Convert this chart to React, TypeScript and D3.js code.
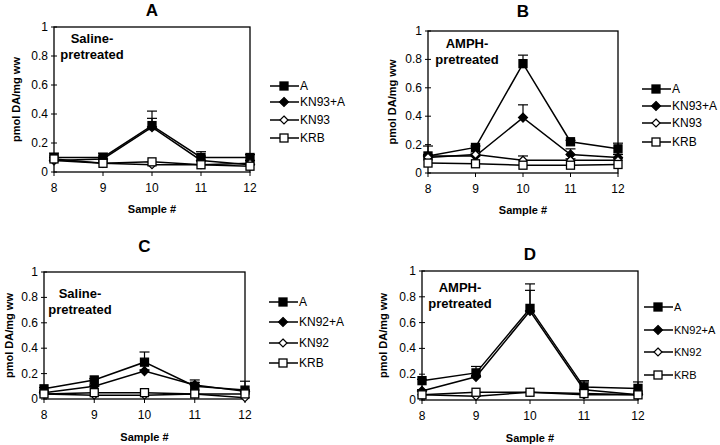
import React from "react";
import * as d3 from "d3";

const samples = [8, 9, 10, 11, 12];
const yTicks = [0, 0.2, 0.4, 0.6, 0.8, 1];
const yTickLabels = ["0", "0.2", "0.4", "0.6", "0.8", "1"];

// Panel A — saline, KN93
const aA = [0.1, 0.1, 0.32, 0.1, 0.1];
const aAerr = [0.13, 0.13, 0.42, 0.14, 0.12];
const aKNA = [0.08, 0.09, 0.31, 0.08, 0.05];
const aKNAerr = [0.1, 0.11, 0.37, 0.11, 0.08];
const aKN = [0.08, 0.06, 0.05, 0.05, 0.06];
const aKRB = [0.09, 0.06, 0.07, 0.05, 0.04];

// Panel B — AMPH, KN93
const bA = [0.12, 0.18, 0.77, 0.22, 0.17];
const bAerr = [0.19, 0.19, 0.83, 0.23, 0.21];
const bKNA = [0.12, 0.12, 0.39, 0.13, 0.11];
const bKNAerr = [0.13, 0.13, 0.48, 0.17, 0.13];
const bKN = [0.11, 0.13, 0.09, 0.09, 0.09];
const bKNerr = [0.12, 0.14, 0.12, 0.1, 0.1];
const bKRB = [0.07, 0.065, 0.055, 0.055, 0.06];

// Panel C — saline, KN92
const cA = [0.08, 0.15, 0.29, 0.1, 0.07];
const cAerr = [0.09, 0.16, 0.37, 0.15, 0.14];
const cKNA = [0.05, 0.1, 0.22, 0.11, 0.06];
const cKNAerr = [0.06, 0.11, 0.23, 0.13, 0.07];
const cKN = [0.04, 0.03, 0.03, 0.04, 0.01];
const cKRB = [0.04, 0.05, 0.05, 0.04, 0.04];

// Panel D — AMPH, KN92
const dA = [0.15, 0.21, 0.71, 0.1, 0.09];
const dAerr = [0.16, 0.26, 0.9, 0.15, 0.14];
const dKNA = [0.07, 0.18, 0.69, 0.08, 0.04];
const dKNAerr = [0.08, 0.19, 0.85, 0.14, 0.05];
const dKN = [0.04, 0.03, 0.06, 0.04, 0.04];
const dKRB = [0.04, 0.06, 0.06, 0.05, 0.04];

type Series = { name: string; values: number[]; err?: number[]; marker: string };

const panels = [
  {
    title: "A", note: ["Saline-", "pretreated"],
    series: [
      { name: "A", values: aA, err: aAerr, marker: "fsq" },
      { name: "KN93+A", values: aKNA, err: aKNAerr, marker: "fdi" },
      { name: "KN93", values: aKN, marker: "odi" },
      { name: "KRB", values: aKRB, marker: "osq" },
    ] as Series[],
    box: { l: 54, r: 250, t: 27, b: 172 },
    titleY: 10, noteX: 92, noteY: 46, legX: 270, legY: [86, 102, 120, 138], legFont: 12,
    ylabX: 16, xlabY: 213,
  },
  {
    title: "B", note: ["AMPH-", "pretreated"],
    series: [
      { name: "A", values: bA, err: bAerr, marker: "fsq" },
      { name: "KN93+A", values: bKNA, err: bKNAerr, marker: "fdi" },
      { name: "KN93", values: bKN, err: bKNerr, marker: "odi" },
      { name: "KRB", values: bKRB, marker: "osq" },
    ] as Series[],
    box: { l: 428, r: 618, t: 31, b: 173 },
    titleY: 11, noteX: 467, noteY: 51, legX: 642, legY: [89, 106, 123, 142], legFont: 12,
    ylabX: 392, xlabY: 214,
  },
  {
    title: "C", note: ["Saline-", "pretreated"],
    series: [
      { name: "A", values: cA, err: cAerr, marker: "fsq" },
      { name: "KN92+A", values: cKNA, err: cKNAerr, marker: "fdi" },
      { name: "KN92", values: cKN, marker: "odi" },
      { name: "KRB", values: cKRB, marker: "osq" },
    ] as Series[],
    box: { l: 44, r: 245, t: 272, b: 399 },
    titleY: 246, noteX: 80, noteY: 301, legX: 269, legY: [302, 322, 343, 363], legFont: 12,
    ylabX: 9, xlabY: 441,
  },
  {
    title: "D", note: ["AMPH-", "pretreated"],
    series: [
      { name: "A", values: dA, err: dAerr, marker: "fsq" },
      { name: "KN92+A", values: dKNA, err: dKNAerr, marker: "fdi" },
      { name: "KN92", values: dKN, marker: "odi" },
      { name: "KRB", values: dKRB, marker: "osq" },
    ] as Series[],
    box: { l: 422, r: 638, t: 271, b: 400 },
    titleY: 254, noteX: 460, noteY: 295, legX: 644, legY: [307, 330, 352, 375], legFont: 11,
    ylabX: 383, xlabY: 442,
  },
];

const FONT = "Liberation Sans, Arial, sans-serif";

function Marker({ kind, x, y }: { kind: string; x: number; y: number }) {
  if (kind === "fsq" || kind === "osq") {
    const s = 8;
    return (
      <rect x={x - s / 2} y={y - s / 2} width={s} height={s}
        fill={kind === "fsq" ? "#000" : "#fff"} stroke="#000" strokeWidth={1.3} />
    );
  }
  const r = kind === "fdi" ? 4.5 : 4;
  const pts = `${x},${y - r} ${x + r},${y} ${x},${y + r} ${x - r},${y}`;
  return <polygon points={pts} fill={kind === "fdi" ? "#000" : "#fff"} stroke="#000" strokeWidth={1.2} />;
}

function Panel({ p }: { p: (typeof panels)[number] }) {
  const { box } = p;
  const x = d3.scaleLinear().domain([8, 12]).range([box.l, box.r]);
  const y = d3.scaleLinear().domain([0, 1]).range([box.b, box.t]);
  const line = d3.line<number>().x((_, i) => x(samples[i])).y((v) => y(v));
  const cx = (box.l + box.r) / 2;
  const cy = (box.t + box.b) / 2;
  const drawOrder = [0, 1, 2, 3];
  return (
    <g fontFamily={FONT}>
      <text x={cx} y={p.titleY} textAnchor="middle" dominantBaseline="central" fontWeight="bold" fontSize={17}>{p.title}</text>
      <rect x={box.l} y={box.t} width={box.r - box.l} height={box.b - box.t} fill="none" stroke="#000" strokeWidth={1.3} />
      {yTicks.map((t, i) => (
        <g key={t}>
          <line x1={box.l - 3} x2={box.l + 3} y1={y(t)} y2={y(t)} stroke="#000" strokeWidth={1} />
          <text x={box.l - 6} y={y(t)} textAnchor="end" dominantBaseline="central" fontSize={12}>{yTickLabels[i]}</text>
        </g>
      ))}
      {samples.map((s) => (
        <g key={s}>
          <line x1={x(s)} x2={x(s)} y1={box.b} y2={box.b + 4} stroke="#000" strokeWidth={1} />
          <text x={x(s)} y={box.b + 16} textAnchor="middle" dominantBaseline="central" fontSize={12}>{s}</text>
        </g>
      ))}
      <text x={cx} y={p.xlabY - 4} textAnchor="middle" dominantBaseline="central" fontWeight="bold" fontSize={11}>Sample #</text>
      <text transform={`translate(${p.ylabX},${cy}) rotate(-90)`} textAnchor="middle" dominantBaseline="central" fontWeight="bold" fontSize={11}>pmol DA/mg ww</text>
      <text x={p.noteX} y={p.noteY - 8} textAnchor="middle" dominantBaseline="central" fontWeight="bold" fontSize={13}>{p.note[0]}</text>
      <text x={p.noteX} y={p.noteY + 8} textAnchor="middle" dominantBaseline="central" fontWeight="bold" fontSize={13}>{p.note[1]}</text>
      {drawOrder.map((k) => {
        const s = p.series[k];
        return (
          <g key={s.name}>
            {s.err && s.err.map((e, i) => (
              <g key={i}>
                <line x1={x(samples[i])} x2={x(samples[i])} y1={y(s.values[i])} y2={y(e)} stroke="#000" strokeWidth={1.2} />
                <line x1={x(samples[i]) - 5} x2={x(samples[i]) + 5} y1={y(e)} y2={y(e)} stroke="#000" strokeWidth={1.2} />
              </g>
            ))}
            <path d={line(s.values) || ""} fill="none" stroke="#000" strokeWidth={1.5} />
          </g>
        );
      })}
      {drawOrder.map((k) => {
        const s = p.series[k];
        return (
          <g key={s.name + "m"}>
            {s.values.map((v, i) => <Marker key={i} kind={s.marker} x={x(samples[i])} y={y(v)} />)}
          </g>
        );
      })}
      {p.series.map((s, i) => (
        <g key={s.name + "l"}>
          <line x1={p.legX} x2={p.legX + 29} y1={p.legY[i]} y2={p.legY[i]} stroke="#000" strokeWidth={1.5} />
          <Marker kind={s.marker} x={p.legX + 14} y={p.legY[i]} />
          <text x={p.legX + 30} y={p.legY[i]} dominantBaseline="central" fontSize={p.legFont}>{s.name}</text>
        </g>
      ))}
    </g>
  );
}

export default function App() {
  return (
    <svg width={720} height={445} style={{ position: "absolute", left: 0, top: 0, background: "#fff" }}>
      <rect width={720} height={445} fill="#fff" />
      {panels.map((p) => <Panel key={p.title} p={p} />)}
    </svg>
  );
}
